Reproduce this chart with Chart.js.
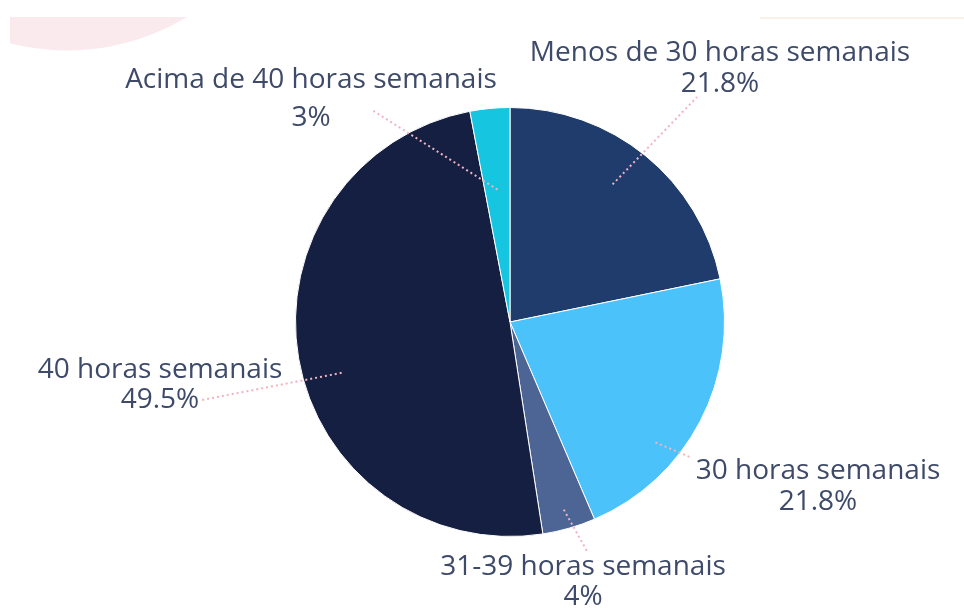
<!DOCTYPE html>
<html lang="pt">
<head>
  <meta charset="UTF-8">
  <title>Jornada semanal</title>
  <script src="https://cdn.jsdelivr.net/npm/chart.js"></script>
  <style>
    html, body { margin: 0; padding: 0; background: #fff; }
    #wrap { width: 964px; height: 608px; position: relative; }
  </style>
</head>
<body>
  <div id="wrap">
    <canvas id="pieChart" width="964" height="608"></canvas>
  </div>

  <script>
    // data, clockwise from 12 o'clock
    const categories = [
      'Menos de 30 horas semanais',
      '30 horas semanais',
      '31-39 horas semanais',
      '40 horas semanais',
      'Acima de 40 horas semanais'
    ];
    const shares = [21.8, 21.8, 4, 49.5, 3];
    const sliceColors = ['#1f3c6d', '#4bc3fa', '#4c6594', '#141f41', '#16c5df'];

    // where each label sits (center x, name baseline, percent baseline) and where its dotted line starts
    const labelPos = [[720, 61, 92], [818, 479, 510], [583, 575, 605], [160, 378, 408], [311, 88, 126]];
    const lineEnd = [[697, 97], [692, 458], [588, 553], [202, 400], [372, 110]];
    const lineStart = [[-2.5, 0.8], [12, 0.88], [0, 0.91], [-7, 0.82], [0, 0.62]]; // deg offset, radius fraction

    const backdrop = {
      id: 'backdrop',
      beforeDraw(chart) {
        const c = chart.ctx;
        c.save();
        c.beginPath();
        c.rect(10, 17, 200, 40);
        c.clip();
        c.fillStyle = '#fbeaed';
        c.beginPath();
        c.arc(67.5, -180.6, 231, 0, Math.PI * 2);
        c.fill();
        c.restore();
        c.save();
        c.strokeStyle = '#fdf0ea';
        c.lineWidth = 2;
        c.beginPath();
        c.moveTo(760, 18);
        c.lineTo(964, 18);
        c.stroke();
        c.restore();
      }
    };

    const callouts = {
      id: 'callouts',
      afterDatasetsDraw(chart) {
        const c = chart.ctx;
        const arcs = chart.getDatasetMeta(0).data;
        c.save();
        arcs.forEach((arc, i) => {
          const p = arc.getProps(['x', 'y', 'startAngle', 'endAngle', 'outerRadius'], true);
          const mid = (p.startAngle + p.endAngle) / 2 + lineStart[i][0] * Math.PI / 180;
          const r = p.outerRadius * lineStart[i][1];
          const sx = p.x + Math.cos(mid) * r;
          const sy = p.y + Math.sin(mid) * r;
          c.strokeStyle = '#f2b3c0';
          c.lineWidth = 2;
          c.setLineDash([2, 3]);
          c.beginPath();
          c.moveTo(sx, sy);
          c.lineTo(lineEnd[i][0], lineEnd[i][1]);
          c.stroke();
        });
        c.setLineDash([]);
        c.fillStyle = '#3e4a69';
        c.font = '28px "Open Sans", "Noto Sans", sans-serif';
        c.textAlign = 'center';
        c.textBaseline = 'alphabetic';
        categories.forEach((name, i) => {
          const [x, y1, y2] = labelPos[i];
          c.fillText(name, x, y1);
          c.fillText(shares[i] + '%', x, y2);
        });
        c.restore();
      }
    };

    const ctx = document.getElementById('pieChart').getContext('2d');
    new Chart(ctx, {
      type: 'pie',
      data: {
        labels: categories,
        datasets: [{
          data: shares,
          backgroundColor: sliceColors,
          borderColor: '#ffffff',
          borderWidth: 1
        }]
      },
      options: {
        responsive: false,
        animation: false,
        layout: { padding: { left: 295, right: 239, top: 107, bottom: 71 } },
        plugins: {
          legend: { display: false },
          tooltip: { enabled: false }
        }
      },
      plugins: [backdrop, callouts]
    });
  </script>
</body>
</html>
